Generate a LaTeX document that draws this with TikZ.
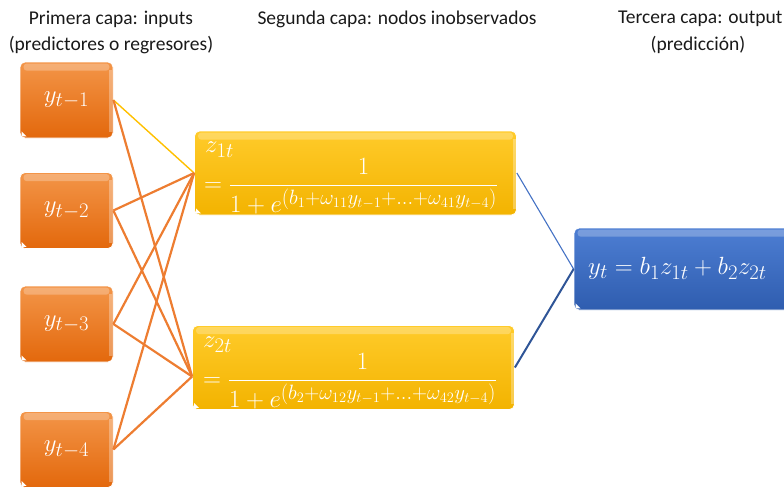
\documentclass[tikz,border=0pt]{standalone}
\usepackage{amsmath}
\usepackage{fontspec}
\setmainfont{Carlito}
\usetikzlibrary{calc}
\DeclareMathSizes{24}{24}{19.5}{15.5}
\DeclareMathSizes{25}{25}{20}{16}
\DeclareMathSizes{26.5}{26.5}{21}{16}

\definecolor{orTop}{HTML}{F39548}
\definecolor{orBot}{HTML}{E3680C}
\definecolor{orLine}{HTML}{ED7D31}
\definecolor{yeTop}{HTML}{FFCB2A}
\definecolor{yeBot}{HTML}{F3B300}
\definecolor{yeLine}{HTML}{FFC000}
\definecolor{blTop}{HTML}{4D7ED3}
\definecolor{blBot}{HTML}{2F5DAF}
\definecolor{blLight}{HTML}{4472C4}
\definecolor{blDark}{HTML}{2F5597}

\tikzset{
  gloss/.style={rounded corners=5pt, draw=white, line width=0.8pt, text=white},
  inbox/.style={gloss, top color=orTop, bottom color=orBot,
    minimum width=93pt, minimum height=76pt,
    font=\fontsize{25}{30}\selectfont},
  hidbox/.style={gloss, top color=yeTop, bottom color=yeBot,
    minimum width=322pt, minimum height=84pt},
  outbox/.style={gloss, top color=blTop, bottom color=blBot,
    minimum width=230pt, minimum height=82pt},
  mathtxt/.style={text=white, inner sep=0pt, font=\fontsize{24}{28}\selectfont},
  header/.style={align=center, font=\fontsize{19.5}{26}\selectfont, text=black!90},
  wire/.style={orLine, line width=2.2pt},
}

\begin{document}
\begin{tikzpicture}[x=1pt, y=-1pt]
\useasboundingbox (0,0) rectangle (784,488);

% headers
\node[header] (h1) at (111,32) {Primera capa: inputs\\(predictores o regresores)};
\node[header] (h2) at (397,19) {Segunda capa: nodos inobservados};
\node[header, anchor=east] (h3) at (786,19) {Tercera capa: output};
\node[header] (h3b) at (698,45) {(predicción)};

% input layer
\node[inbox] (y1) at (66.5,100) {$y_{t-1}$};
\node[inbox] (y2) at (66.5,210.5) {$y_{t-2}$};
\node[inbox] (y3) at (66.5,324) {$y_{t-3}$};
\node[inbox] (y4) at (66.5,449.5) {$y_{t-4}$};

% hidden layer
\node[hidbox] (z1) at (355.5,173) {};
\node[hidbox] (z2) at (353.5,367.5) {};

% output layer
\node[outbox] (out) at (689,269) {};

% glossy highlights and corner marks
\foreach \b in {y1,y2,y3,y4,z1,z2,out}{
  \fill[white, opacity=0.25, rounded corners=3pt]
    ($(\b.north west)+(4,2)$) rectangle ($(\b.north east)+(-4,9)$);
  \fill[white, opacity=0.3]
    ($(\b.north east)+(-4,8)$) rectangle ($(\b.south east)+(-1,-6)$);
  \fill[white] ($(\b.south west)+(2,-2)$) -- ++(5,0) -- ++(-5,-5) -- cycle;
}

% text of the hidden nodes
\node[mathtxt, anchor=west] (z1lab) at (205,150) {$z_{1t}$};
\node[mathtxt, anchor=west] (z1eq) at (204,186.5)
  {$=\dfrac{1}{1+e^{(b_1+\omega_{11}y_{t-1}+\ldots+\omega_{41}y_{t-4})}}$};
\node[mathtxt, anchor=west] (z2lab) at (203,345) {$z_{2t}$};
\node[mathtxt, anchor=west] (z2eq) at (203,381.5)
  {$=\dfrac{1}{1+e^{(b_2+\omega_{12}y_{t-1}+\ldots+\omega_{42}y_{t-4})}}$};

% text of the output node
\node[mathtxt, anchor=west, font=\fontsize{26.5}{30}\selectfont] (outeq) at (588,268)
  {$y_t=b_1z_{1t}+b_2z_{2t}$};

% connections input -> hidden
\coordinate (z2in) at ($(z2.west)+(0,9)$);
\draw[yeLine, line width=1.4pt] (y1.east) -- (z1.west);
\draw[wire] (y1.east) -- (z2in);
\foreach \i in {2,3,4}{
  \draw[wire] (y\i.east) -- (z1.west);
  \draw[wire] (y\i.east) -- (z2in);
}

% connections hidden -> output
\draw[blLight, line width=1.1pt] (z1.east) -- (out.west);
\draw[blDark, line width=2pt] (z2.east) -- (out.west);
\end{tikzpicture}
\end{document}
